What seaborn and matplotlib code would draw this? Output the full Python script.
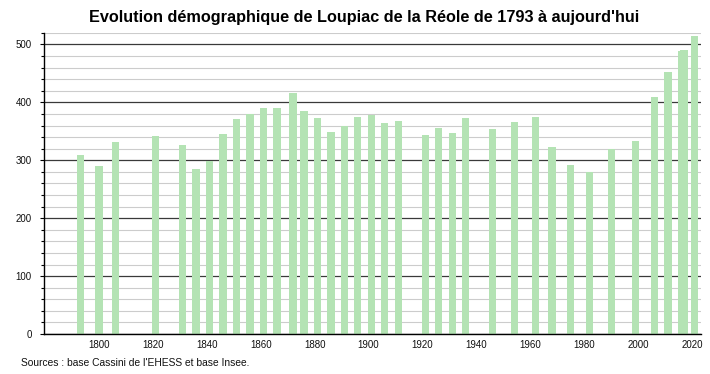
import matplotlib
matplotlib.use("Agg")
import matplotlib.pyplot as plt
from matplotlib.ticker import MultipleLocator, FixedLocator
import seaborn as sns
import pandas as pd

years = [1793, 1800, 1806, 1821, 1831, 1836, 1841, 1846, 1851, 1856,
         1861, 1866, 1872, 1876, 1881, 1886, 1891, 1896, 1901, 1906,
         1911, 1921, 1926, 1931, 1936, 1946, 1954, 1962, 1968, 1975,
         1982, 1990, 1999, 2006, 2011, 2016, 2017, 2021]
population = [309, 290, 331, 342, 326, 285, 299, 345, 371, 380,
              390, 390, 416, 385, 373, 349, 359, 375, 379, 364,
              368, 343, 356, 347, 373, 354, 366, 375, 323, 292,
              279, 319, 333, 409, 452, 488, 490, 514]
xticks = [1800, 1820, 1840, 1860, 1880, 1900, 1920, 1940, 1960, 1980, 2000, 2020]

title = "Evolution démographique de Loupiac de la Réole de 1793 à aujourd'hui"
source = "Sources : base Cassini de l'EHESS et base Insee."
bar_color = "#b4e3b4"

df = pd.DataFrame({"annee": years, "population": population})

sns.set_style("white")
plt.rcParams["font.family"] = ["Liberation Sans", "DejaVu Sans"]
plt.rcParams["text.color"] = "black"
plt.rcParams["xtick.color"] = "black"
plt.rcParams["ytick.color"] = "black"

fig = plt.figure(figsize=(7.1, 3.74), dpi=100)
ax = fig.add_axes([0.062, 0.107, 0.925, 0.805])

# native_scale: bars sit on the real year positions; width is relative to the 1-year min gap
sns.barplot(data=df, x="annee", y="population", native_scale=True, width=2.7,
            color=bar_color, saturation=1, linewidth=0, errorbar=None, ax=ax)

ax.set_xlim(1779.6, 2023.2)
ax.set_ylim(0, 520)
ax.xaxis.set_major_locator(FixedLocator(xticks))
ax.set_xticklabels([str(t) for t in xticks])
ax.yaxis.set_major_locator(MultipleLocator(100))
ax.yaxis.set_minor_locator(MultipleLocator(20))

ax.set_axisbelow(True)
ax.grid(which="major", axis="y", color="#3a3a3a", lw=0.9)
ax.grid(which="minor", axis="y", color="#cccccc", lw=0.8)
ax.grid(which="major", axis="x", visible=False)

for s in ["top", "right"]:
    ax.spines[s].set_visible(False)
for s in ["left", "bottom"]:
    ax.spines[s].set_color("black")
    ax.spines[s].set_linewidth(1.0)

ax.tick_params(axis="y", which="major", length=3, width=0.8, color="black",
               labelcolor="#111111", labelsize=7, pad=6, left=True)
ax.tick_params(axis="y", which="minor", length=2, width=0.8, color="black", left=True)
ax.tick_params(axis="x", which="both", length=0, labelcolor="#111111", labelsize=7, pad=4)
ax.set_xlabel("")
ax.set_ylabel("")

fig.text(0.513, 0.953, title, ha="center", va="center", fontsize=11.7,
         fontweight="bold", color="black")
fig.text(0.029, 0.030, source, ha="left", va="center", fontsize=7.4, color="#111111")

fig.savefig("out.png", dpi=100)
